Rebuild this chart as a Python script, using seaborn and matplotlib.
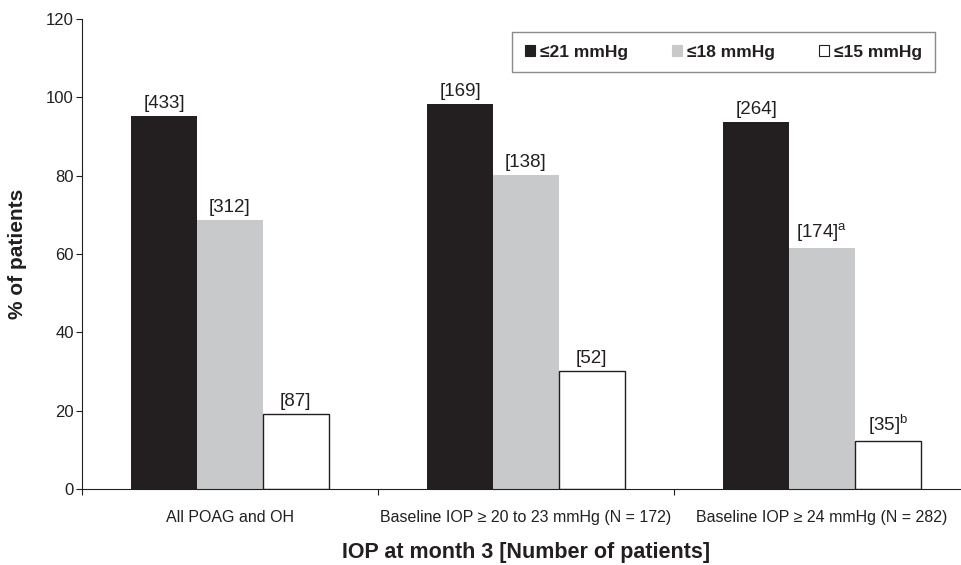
import pandas as pd
import seaborn as sns
import matplotlib.pyplot as plt
from matplotlib.patches import Patch

groups = ["All POAG and OH",
          "Baseline IOP \u2265 20 to 23 mmHg (N = 172)",
          "Baseline IOP \u2265 24 mmHg (N = 282)"]
levels = ["\u226421 mmHg", "\u226418 mmHg", "\u226415 mmHg"]
pct_21 = [95.3, 98.3, 93.7]
pct_18 = [68.7, 80.1, 61.5]
pct_15 = [19.2, 30.1, 12.3]
n_21 = ["[433]", "[169]", "[264]"]
n_18 = ["[312]", "[138]", "[174]$^{\\mathregular{a}}$"]
n_15 = ["[87]", "[52]", "[35]$^{\\mathregular{b}}$"]

colors = ["#231f20", "#c8c9cb", "#ffffff"]
ink = "#231f20"

df = pd.DataFrame({
    "group": groups * 3,
    "level": [levels[0]] * 3 + [levels[1]] * 3 + [levels[2]] * 3,
    "pct": pct_21 + pct_18 + pct_15,
})

sns.set_style("white")
plt.rcParams["font.family"] = ["Liberation Sans", "DejaVu Sans"]
plt.rcParams["mathtext.fontset"] = "custom"
plt.rcParams["mathtext.rm"] = "Liberation Sans"

fig = plt.figure(figsize=(9.61, 5.65), dpi=100)
ax = fig.add_axes([82 / 961, 1 - 489 / 565, 888 / 961, 470 / 565])

sns.barplot(data=df, x="group", y="pct", hue="level", order=groups,
            hue_order=levels, palette=colors, width=0.667, saturation=1,
            linewidth=0, legend=False, ax=ax)

# white bars get a thin outline, labels above every bar
for i, (cont, labels) in enumerate(zip(ax.containers, [n_21, n_18, n_15])):
    if i == 2:
        for p in cont:
            p.set_edgecolor(ink)
            p.set_linewidth(1.0)
    ax.bar_label(cont, labels=labels, padding=3, fontsize=13.5, color=ink)

ax.set_xlim(-0.5, 2.5)
ax.set_ylim(0, 120)
ax.set_yticks(range(0, 121, 20))
ax.tick_params(axis="y", direction="out", length=4, width=0.8, color=ink,
               labelsize=12, labelcolor=ink, pad=2, left=True)
ax.tick_params(axis="x", which="major", length=0, labelsize=11.5,
               labelcolor=ink, pad=15)
ax.set_xticks([-0.5, 0.5, 1.5, 2.5], minor=True)
ax.tick_params(axis="x", which="minor", direction="out", length=4,
               width=0.8, color=ink, bottom=True)

for side in ["top", "right"]:
    ax.spines[side].set_visible(False)
for side in ["left", "bottom"]:
    ax.spines[side].set_color(ink)
    ax.spines[side].set_linewidth(0.8)

ax.set_ylabel("% of patients", fontsize=15, fontweight="bold", color=ink)
ax.yaxis.set_label_coords(-0.062, 0.5)
ax.set_xlabel("IOP at month 3 [Number of patients]", fontsize=15.5,
              fontweight="bold", color=ink)
ax.xaxis.set_label_coords((526 - 82) / 888, -0.112)

handles = [Patch(facecolor=c, edgecolor=ink if c == "#ffffff" else c,
                 linewidth=0.8) for c in colors]
leg = fig.legend(handles, levels, loc="center",
                 bbox_to_anchor=(723.5 / 961, 1 - 52 / 565), ncol=3,
                 frameon=True, fancybox=False, handlelength=0.6,
                 handleheight=0.6, handletextpad=0.3, columnspacing=2.5,
                 borderpad=0.7, borderaxespad=0,
                 prop={"size": 12.5, "weight": "bold"})
leg.get_frame().set_edgecolor("#6d6e70")
leg.get_frame().set_linewidth(1.0)
for t in leg.get_texts():
    t.set_color(ink)

fig.savefig("out.png", dpi=100)
